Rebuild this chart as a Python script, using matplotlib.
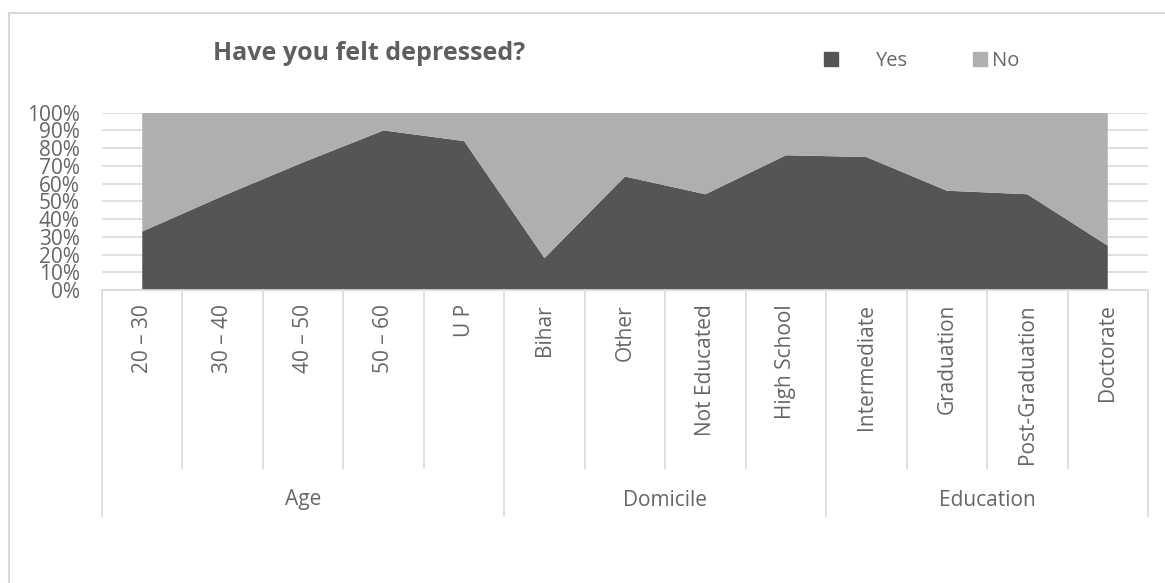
import matplotlib
matplotlib.use("Agg")
import matplotlib.pyplot as plt
from matplotlib.patches import Patch, Rectangle
from matplotlib.ticker import PercentFormatter
import matplotlib.transforms as mtransforms

plt.rcParams['font.family'] = ['Open Sans', 'DejaVu Sans']

categories = ['20 – 30', '30 – 40', '40 – 50', '50 – 60', 'U P',
              'Bihar', 'Other', 'Not Educated', 'High School',
              'Intermediate', 'Graduation', 'Post-Graduation', 'Doctorate']
groups = ['Age', 'Domicile', 'Education']
group_sizes = [5, 4, 4]
yes = [33, 53, 72, 90, 84, 18, 64, 54, 76, 75, 56, 54, 25]
no = [100 - v for v in yes]

dark = '#555555'
light = '#afafaf'
txt = '#666666'
line_col = '#d9d9d9'

W, H = 1165, 583
fig = plt.figure(figsize=(W / 100, H / 100), dpi=100)
ax = fig.add_axes([102 / W, 1 - 290 / H, 1046 / W, 177.3 / H])

x = list(range(len(categories)))
ax.stackplot(x, yes, no, colors=[dark, light], linewidth=0)

ax.set_xlim(-0.5, len(categories) - 0.5)
ax.set_ylim(0, 100)
ax.set_yticks(range(0, 101, 10))
ax.yaxis.set_major_formatter(PercentFormatter(decimals=0))
ax.tick_params(axis='y', length=0, pad=16, labelsize=15, labelcolor=txt)
ax.set_xticks([])
ax.grid(axis='y', color=line_col, linewidth=1.2, zorder=0)
ax.set_axisbelow(True)
for s in ['top', 'right', 'left']:
    ax.spines[s].set_visible(False)
ax.spines['bottom'].set_color(line_col)
ax.spines['bottom'].set_linewidth(1.2)

# category labels and separators below the axis
trans = mtransforms.blended_transform_factory(ax.transData, ax.transAxes)
ax_h = 177.3
for i, lab in enumerate(categories):
    ax.text(i, -14 / ax_h, lab, transform=trans, rotation=90, ha='center',
            va='top', fontsize=15, color=txt)
bounds = [b + 0.5 for b in range(-1, len(categories))]
group_edges = [-0.5]
for n in group_sizes:
    group_edges.append(group_edges[-1] + n)
for b in bounds:
    bottom = -226 / ax_h if b in group_edges else -178 / ax_h
    ax.plot([b, b], [0, bottom], transform=trans, color=line_col,
            linewidth=1.2, clip_on=False)
for g, lo, hi in zip(groups, group_edges[:-1], group_edges[1:]):
    ax.text((lo + hi) / 2, -210 / ax_h, g, transform=trans, ha='center',
            va='center', fontsize=15, color=txt)

fig.text(213 / W, 1 - 60 / H, 'Have you felt depressed?', ha='left',
         va='baseline', fontsize=18, fontweight='bold', color='#5f5f5f')

# legend: Excel puts a wide gap after the first marker, a narrow one after the second
fs = 14.5
fs_px = fs * 100 / 72
for patch_col, lab, x0, pad in [(dark, 'Yes', 824, 37), (light, 'No', 973, 5)]:
    fig.legend(handles=[Patch(color=patch_col, label=lab)], loc='center left',
               bbox_to_anchor=(x0 / W, 1 - 61 / H), frameon=False, fontsize=fs,
               labelcolor=txt, handlelength=14 / fs_px, handleheight=14 / fs_px,
               handletextpad=pad / fs_px, borderpad=0, borderaxespad=0)

fig.patches.append(Rectangle((9 / W, -0.1), 1.2, 1.1 - 13 / H,
                             transform=fig.transFigure, fill=False,
                             edgecolor=line_col, linewidth=1.5))

fig.savefig('out.png', dpi=100)
